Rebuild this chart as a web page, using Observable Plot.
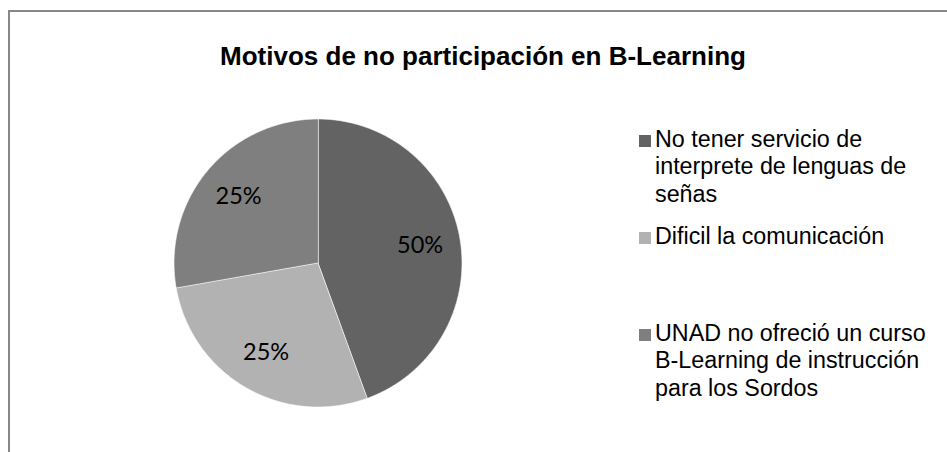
<!DOCTYPE html>
<html>
<head>
<meta charset="utf-8">
<script src="https://cdn.jsdelivr.net/npm/d3@7"></script>
<script src="https://cdn.jsdelivr.net/npm/@observablehq/plot@0.6"></script>
<style>
  html, body { margin: 0; padding: 0; background: #fff; }
  #wrap { position: relative; width: 947px; height: 452px; overflow: hidden; background: #fff; }
  #frame { position: absolute; left: 8px; top: 10px; width: 1200px; height: 1200px;
           border-top: 2px solid #878787; border-left: 2px solid #878787; box-sizing: border-box; }
  #chart { position: absolute; left: 0; top: 0; }
  #title { position: absolute; left: 0; width: 966px; top: 41px; text-align: center;
           font: bold 26px/30px "Liberation Sans", Arial, sans-serif; color: #000; white-space: nowrap; }
  .item { position: absolute; left: 639px; display: flex; align-items: flex-start; }
  .sw { width: 12px; height: 12px; margin-top: 9px; margin-right: 4px; flex: none; }
  .tx { width: 274px; font: 23.3px/27.5px "Liberation Sans", Arial, sans-serif; color: #000; }
</style>
</head>
<body>
<div id="wrap">
  <div id="frame"></div>
  <div id="chart"></div>
  <div id="title"></div>
  <div id="legend"></div>
</div>
<script>
const title = "Motivos de no participación en B-Learning";
const categories = [
  "No tener servicio de interprete de lenguas de señas",
  "Dificil la comunicación",
  "UNAD no ofreció un curso B-Learning de instrucción para los Sordos"
];
const values = [8, 5, 5];
const labels = ["50%", "25%", "25%"];
const colors = ["#636363", "#b2b2b2", "#7f7f7f"];

// layout constants
const cx = 317.5, cy = 262.5, R = 144;

const arcs = d3.pie().sort(null).value(i => values[i])(d3.range(categories.length));

// slice outlines built from the pie angles
const pts = [];
arcs.forEach(a => {
  const cat = categories[a.data];
  pts.push({cat, x: 0, y: 0});
  const n = Math.max(2, Math.ceil((a.endAngle - a.startAngle) / (Math.PI / 360)));
  for (let k = 0; k <= n; k++) {
    const t = a.startAngle + (a.endAngle - a.startAngle) * k / n;
    pts.push({cat, x: Math.sin(t), y: Math.cos(t)});
  }
});

const lbls = arcs.map(a => {
  const m = (a.startAngle + a.endAngle) / 2;
  return {label: labels[a.data], x: 0.72 * Math.sin(m), y: 0.72 * Math.cos(m)};
});

const chart = Plot.plot({
  width: 947,
  height: 452,
  margin: 0,
  style: {background: "transparent", overflow: "visible"},
  x: {domain: [-1, 1], range: [cx - R, cx + R], axis: null},
  y: {domain: [-1, 1], range: [cy + R, cy - R], axis: null},
  color: {domain: categories, range: colors},
  marks: [
    Plot.line(pts, {x: "x", y: "y", z: "cat", fill: "cat", stroke: "#ffffff",
      strokeWidth: 1, strokeOpacity: 0.6, curve: "linear-closed"}),
    Plot.text(lbls, {x: "x", y: "y", text: "label", fontFamily: "Lato, 'Open Sans', sans-serif",
      fontSize: 23.5, fill: "#000"})
  ]
});
document.getElementById("chart").appendChild(chart);

document.getElementById("title").textContent = title;

const legend = document.getElementById("legend");
categories.forEach((c, i) => {
  const item = document.createElement("div");
  item.className = "item";
  item.style.top = (125.7 + i * 97) + "px";
  const sw = document.createElement("div");
  sw.className = "sw";
  sw.style.background = colors[i];
  const tx = document.createElement("div");
  tx.className = "tx";
  tx.textContent = c;
  item.appendChild(sw);
  item.appendChild(tx);
  legend.appendChild(item);
});
</script>
</body>
</html>
